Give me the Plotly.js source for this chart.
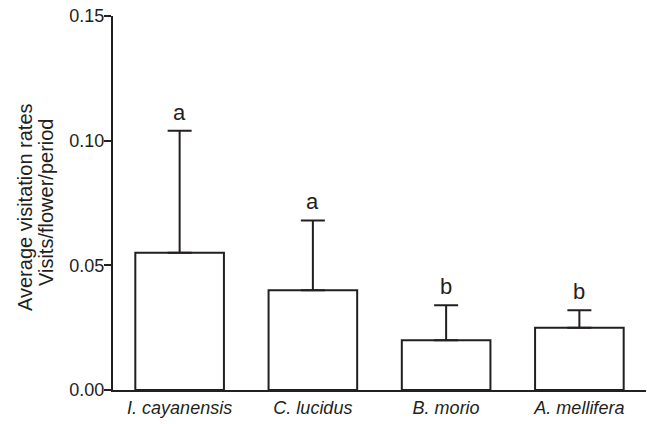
<!DOCTYPE html>
<html>
<head>
<meta charset="utf-8">
<script src="https://cdn.plot.ly/plotly-3.0.1.min.js"></script>
<style>html,body{margin:0;padding:0;background:#fff;}#chart{width:647px;height:424px;}</style>
</head>
<body>
<div id="chart"></div>
<script>
var categories = ["I. cayanensis", "C. lucidus", "B. morio", "A. mellifera"];
var means = [0.055, 0.040, 0.020, 0.025];
var errors = [0.049, 0.028, 0.014, 0.007];
var letters = ["a", "a", "b", "b"];
var yTickVals = [0.00, 0.05, 0.10, 0.15];

var ink = "#231f20";
var font = "Liberation Sans, Arial, sans-serif";

var xIdx = categories.map(function (c, i) { return i; });

var trace = {
  type: "bar",
  x: xIdx,
  y: means,
  width: 0.665,
  marker: { color: "#ffffff", line: { color: ink, width: 2 } },
  error_y: {
    type: "data",
    symmetric: false,
    array: errors,
    arrayminus: means.map(function () { return 0; }),
    color: ink,
    thickness: 2,
    width: 12
  },
  hoverinfo: "none"
};

var annotations = letters.map(function (t, i) {
  return {
    x: i, y: means[i] + errors[i], xref: "x", yref: "y",
    text: t, showarrow: false, yanchor: "bottom", yshift: 4,
    font: { family: font, size: 22, color: ink }
  };
});
annotations.push({
  xref: "paper", yref: "paper", x: (25 - 113) / 533, y: (390 - 207) / 374,
  xanchor: "center", yanchor: "middle", textangle: -90, showarrow: false,
  text: "Average visitation rates", font: { family: font, size: 20, color: ink }
});
annotations.push({
  xref: "paper", yref: "paper", x: (46 - 113) / 533, y: (390 - 203) / 374,
  xanchor: "center", yanchor: "middle", textangle: -90, showarrow: false,
  text: "Visits/flower/period", font: { family: font, size: 20, color: ink }
});

var layout = {
  width: 647, height: 424,
  margin: { l: 113, r: 1, t: 16, b: 34, pad: 0 },
  paper_bgcolor: "#ffffff", plot_bgcolor: "#ffffff",
  showlegend: false,
  font: { family: font, color: ink },
  xaxis: {
    range: [-0.5, 3.5],
    tickvals: xIdx,
    ticktext: categories.map(function (c) { return "<i>" + c + "</i>"; }),
    showline: true, linecolor: ink, linewidth: 2,
    ticks: "", showgrid: false, zeroline: false,
    tickfont: { family: font, size: 18, color: ink },
    fixedrange: true
  },
  yaxis: {
    range: [0, 0.15],
    tickvals: yTickVals,
    tickformat: ".2f",
    showline: true, linecolor: ink, linewidth: 2,
    ticks: "outside", ticklen: 7, tickwidth: 2, tickcolor: ink,
    ticklabelstandoff: -4,
    showgrid: false, zeroline: false,
    tickfont: { family: font, size: 18, color: ink },
    fixedrange: true
  },
  annotations: annotations,
  bargap: 0
};

Plotly.newPlot("chart", [trace], layout, { displayModeBar: false, staticPlot: true });
</script>
</body>
</html>
